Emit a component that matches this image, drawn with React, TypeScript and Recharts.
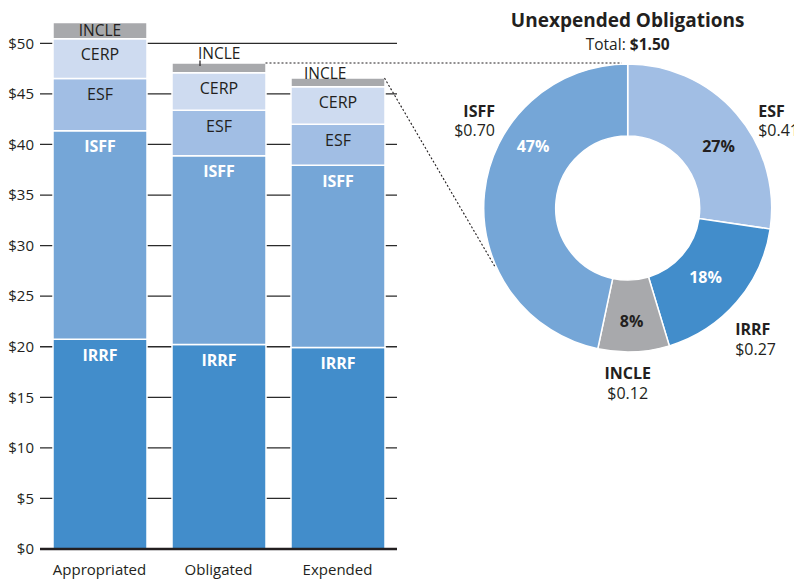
import React from 'react';
import { BarChart, Bar, XAxis, YAxis, CartesianGrid, LabelList, PieChart, Pie, Cell } from 'recharts';

// ---- data ----
const categories = ['Appropriated', 'Obligated', 'Expended'];
const irrf = [20.75, 20.22, 19.92];
const isff = [20.61, 18.67, 18.02];
const esf = [5.16, 4.49, 4.06];
const cerp = [3.93, 3.72, 3.71];
const incle = [1.62, 0.95, 0.86];
const yTicks = [0, 5, 10, 15, 20, 25, 30, 35, 40, 45, 50];

const pieNames = ['ESF', 'IRRF', 'INCLE', 'ISFF'];
const pieValues = [0.41, 0.27, 0.12, 0.7];
const pieTotal = 1.5;
const pieTitle = 'Unexpended Obligations';

// ---- style ----
const FONT = "'Open Sans', sans-serif";
const DARK = '#231f20';
const COLORS: Record<string, string> = {
  IRRF: '#428dcb',
  ISFF: '#75a6d7',
  ESF: '#a1bee4',
  CERP: '#cedbf0',
  INCLE: '#a8a9ac',
};

const barData = categories.map((c, i) => ({
  name: c,
  IRRF: irrf[i],
  ISFF: isff[i],
  ESF: esf[i],
  CERP: cerp[i],
  INCLE: incle[i],
}));
const pieData = pieNames.map((n, i) => ({ name: n, value: pieValues[i] }));

// bar chart layout
const BAR_W = 400;
const H = 580;
const M_TOP = 13;
const M_BOTTOM = 1;
const X_AX_H = 30;
const Y_AX_W = 40;
const M_RIGHT = 3;
const Y_MAX = 53;
const PLOT_TOP = M_TOP;
const PLOT_H = H - M_TOP - M_BOTTOM - X_AX_H;
const PLOT_LEFT = Y_AX_W;
const PLOT_W = BAR_W - Y_AX_W - M_RIGHT;
const BAND = PLOT_W / categories.length;
const BAR_SIZE = 94;
const yPx = (v: number) => PLOT_TOP + ((Y_MAX - v) / Y_MAX) * PLOT_H;
const barRight = (i: number) => PLOT_LEFT + BAND * i + (BAND + BAR_SIZE) / 2;
const stackTop = (i: number) => irrf[i] + isff[i] + esf[i] + cerp[i] + incle[i];

// pie layout
const PIE_LEFT = 400;
const PIE_CX = 227.7;
const PIE_CY = 208;
const R_OUT = 144;
const R_IN = 72;

const segLabel = (name: string, fill: string, weight: number) => (p: any) => {
  const x = Number(p.x), y = Number(p.y), w = Number(p.width);
  return (
    <text x={x + w / 2} y={y + 21.5} textAnchor="middle" fill={fill} fontFamily={FONT} fontSize={16} fontWeight={weight}>
      {name}
    </text>
  );
};

const incleLayout = [
  { inside: true, dx: 0, dy: 13.8 },
  { inside: false, dx: 26, dy: -4.5 },
  { inside: false, dx: 13, dy: 1 },
];

const incleLabel = (p: any) => {
  const x = Number(p.x), y = Number(p.y), w = Number(p.width);
  const l = incleLayout[p.index] || incleLayout[0];
  if (l.inside) {
    return (
      <text x={x + w / 2} y={y + l.dy} textAnchor="middle" fill={DARK} fontFamily={FONT} fontSize={15.5}>
        INCLE
      </text>
    );
  }
  return (
    <g>
      <text x={x + l.dx} y={y + l.dy} textAnchor="start" fill={DARK} fontFamily={FONT} fontSize={15.5}>
        INCLE
      </text>
      <line x1={x + l.dx + 2} x2={x + l.dx + 2} y1={y + l.dy + 2} y2={y + 3} stroke={DARK} strokeWidth={1.2} />
    </g>
  );
};

const XTick = (p: any) => (
  <text x={p.x} y={Number(p.y) + 24} textAnchor="middle" fill={DARK} fontFamily={FONT} fontSize={15}>
    {p.payload.value}
  </text>
);

const outerLayout: Record<string, { dx: number; dy: number; anchor: string }> = {
  ESF: { dx: 130.5, dy: -91.3, anchor: 'start' },
  IRRF: { dx: 107.5, dy: 127, anchor: 'start' },
  INCLE: { dx: 0, dy: 171, anchor: 'middle' },
  ISFF: { dx: -132.7, dy: -91.3, anchor: 'end' },
};
const pctLayout: Record<string, { angle: number; r: number; fill: string }> = {
  ESF: { angle: 34.3, r: 110, fill: DARK },
  IRRF: { angle: -41.5, r: 104, fill: '#ffffff' },
  INCLE: { angle: -88, r: 113, fill: DARK },
  ISFF: { angle: 146.9, r: 113, fill: '#ffffff' },
};

const pieLabel = (p: any) => {
  const cx = Number(p.cx), cy = Number(p.cy);
  const name = p.name ?? p.payload?.name;
  const value = Number(p.value ?? p.payload?.value);
  const pc = pctLayout[name];
  const ol = outerLayout[name];
  const RAD = Math.PI / 180;
  const px = cx + pc.r * Math.cos(pc.angle * RAD);
  const py = cy - pc.r * Math.sin(pc.angle * RAD);
  const pct = Math.round((value / pieTotal) * 100);
  return (
    <g>
      <text x={px} y={py + 6} textAnchor="middle" fill={pc.fill} fontFamily={FONT} fontSize={16} fontWeight={700}>
        {pct}%
      </text>
      <text x={cx + ol.dx} y={cy + ol.dy} textAnchor={ol.anchor as any} fill={DARK} fontFamily={FONT} fontSize={16} fontWeight={700}>
        {name}
      </text>
      <text x={cx + ol.dx} y={cy + ol.dy + 19.5} textAnchor={ol.anchor as any} fill={DARK} fontFamily={FONT} fontSize={16}>
        ${value.toFixed(2)}
      </text>
    </g>
  );
};

export default function App() {
  // connector geometry derived from the scales above
  const hx1 = barRight(1);
  const hy = yPx(stackTop(1));
  const hx2 = PIE_LEFT + PIE_CX - 6;
  const dx1 = barRight(2);
  const dy1 = yPx(stackTop(2));
  const ang = 204.3 * (Math.PI / 180);
  const dx2 = PIE_LEFT + PIE_CX + (R_OUT + 1) * Math.cos(ang);
  const dy2 = PIE_CY - (R_OUT + 1) * Math.sin(ang);

  return (
    <div style={{ position: 'absolute', left: 0, top: 0, width: 794, height: 580, background: '#fff', overflow: 'hidden' }}>
      <div style={{ position: 'absolute', left: 0, top: 0 }}>
        <BarChart
          width={BAR_W}
          height={H}
          data={barData}
          margin={{ top: M_TOP, right: M_RIGHT, left: 0, bottom: M_BOTTOM }}
          barSize={BAR_SIZE}
        >
          <CartesianGrid vertical={false} stroke="#2b2b2b" strokeWidth={1.3} horizontalPoints={yTicks.map(yPx)} />
          <XAxis
            dataKey="name"
            height={X_AX_H}
            tickLine={false}
            tickSize={0}
            axisLine={{ stroke: DARK, strokeWidth: 2.6 }}
            tick={<XTick />}
            interval={0}
          />
          <YAxis
            width={Y_AX_W}
            domain={[0, Y_MAX]}
            ticks={yTicks}
            allowDataOverflow
            tickLine={false}
            axisLine={false}
            tickSize={0}
            tickMargin={6}
            tickFormatter={(v: number) => `$${v}`}
            tick={{ fill: DARK, fontFamily: FONT, fontSize: 15 }}
          />
          <Bar dataKey="IRRF" stackId="a" fill={COLORS.IRRF} stroke="#fff" strokeWidth={1.5} isAnimationActive={false}>
            <LabelList dataKey="IRRF" content={segLabel('IRRF', '#ffffff', 700)} />
          </Bar>
          <Bar dataKey="ISFF" stackId="a" fill={COLORS.ISFF} stroke="#fff" strokeWidth={1.5} isAnimationActive={false}>
            <LabelList dataKey="ISFF" content={segLabel('ISFF', '#ffffff', 700)} />
          </Bar>
          <Bar dataKey="ESF" stackId="a" fill={COLORS.ESF} stroke="#fff" strokeWidth={1.5} isAnimationActive={false}>
            <LabelList dataKey="ESF" content={segLabel('ESF', DARK, 400)} />
          </Bar>
          <Bar dataKey="CERP" stackId="a" fill={COLORS.CERP} stroke="#fff" strokeWidth={1.5} isAnimationActive={false}>
            <LabelList dataKey="CERP" content={segLabel('CERP', DARK, 400)} />
          </Bar>
          <Bar dataKey="INCLE" stackId="a" fill={COLORS.INCLE} stroke="#fff" strokeWidth={1.5} isAnimationActive={false}>
            <LabelList dataKey="INCLE" content={incleLabel} />
          </Bar>
        </BarChart>
      </div>
      <div style={{ position: 'absolute', left: PIE_LEFT, top: 0 }}>
        <PieChart width={394} height={420} margin={{ top: 0, right: 0, bottom: 0, left: 0 }}>
          <Pie
            data={pieData}
            dataKey="value"
            nameKey="name"
            cx={PIE_CX}
            cy={PIE_CY}
            innerRadius={R_IN}
            outerRadius={R_OUT}
            startAngle={90}
            endAngle={-270}
            stroke="#fff"
            strokeWidth={1.5}
            label={pieLabel}
            labelLine={false}
            isAnimationActive={false}
          >
            {pieData.map((d) => (
              <Cell key={d.name} fill={COLORS[d.name]} />
            ))}
          </Pie>
        </PieChart>
      </div>
      <svg width={794} height={580} style={{ position: 'absolute', left: 0, top: 0, pointerEvents: 'none' }}>
        <text x={PIE_LEFT + PIE_CX} y={27} textAnchor="middle" fill={DARK} fontFamily={FONT} fontSize={19} fontWeight={700}>
          {pieTitle}
        </text>
        <text x={PIE_LEFT + PIE_CX} y={49.5} textAnchor="middle" fill={DARK} fontFamily={FONT} fontSize={15.5}>
          Total: <tspan fontWeight={700}>${pieTotal.toFixed(2)}</tspan>
        </text>
        <line x1={hx1} y1={hy} x2={hx2} y2={hy} stroke={DARK} strokeWidth={1.1} strokeDasharray="2 2" />
        <line x1={dx1} y1={dy1} x2={dx2} y2={dy2} stroke={DARK} strokeWidth={1.1} strokeDasharray="2 2" />
      </svg>
    </div>
  );
}
